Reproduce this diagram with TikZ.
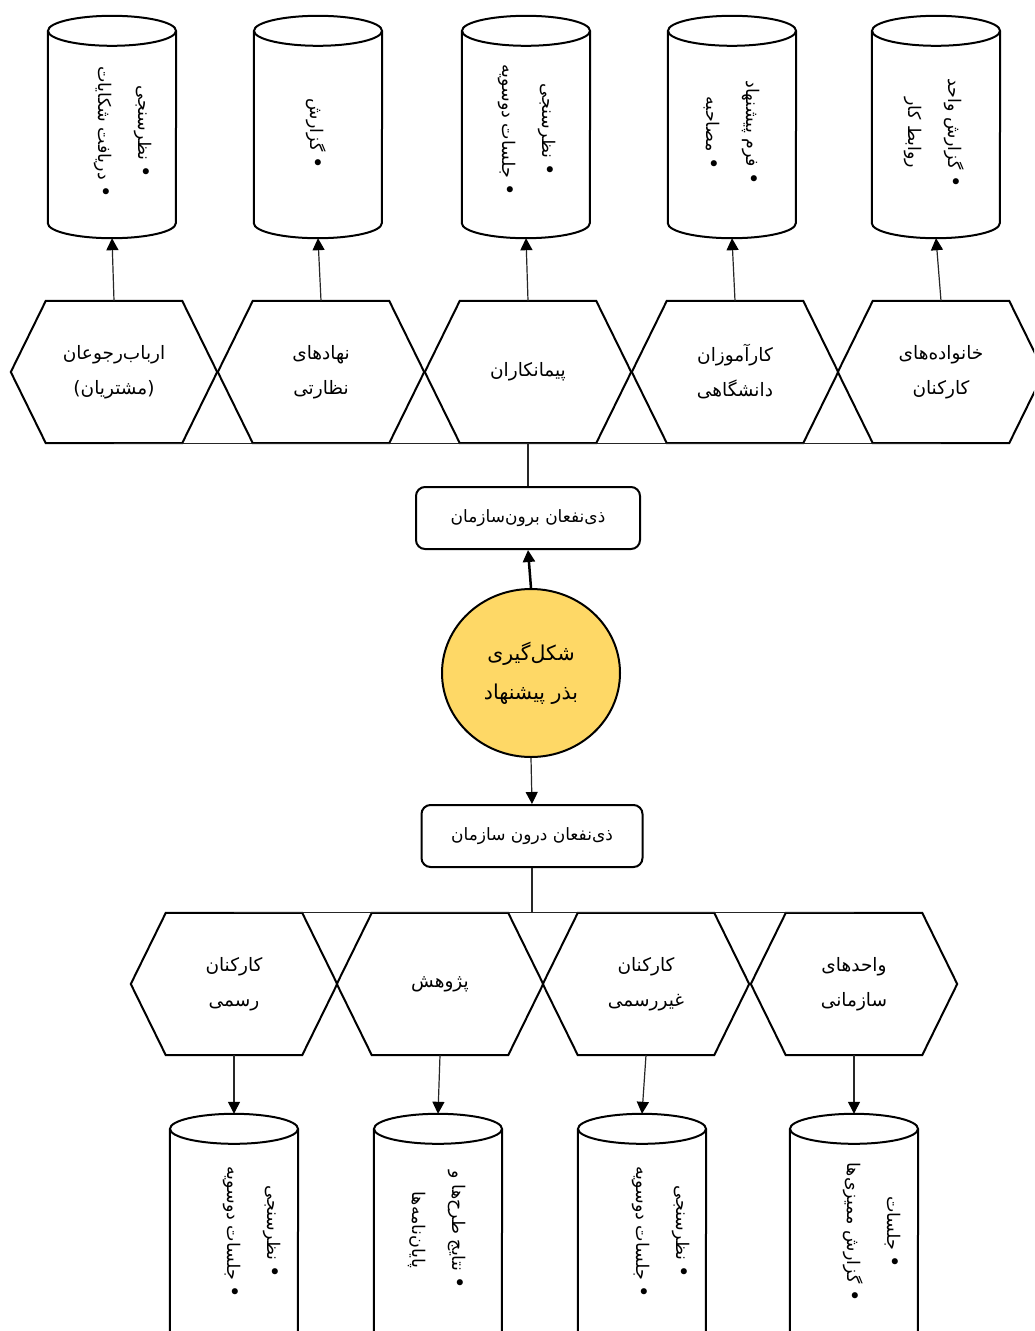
\documentclass[tikz,border=0pt]{standalone}
\usepackage{fontspec}
\usetikzlibrary{arrows.meta,calc,shapes.geometric}
\newfontfamily\fa[Script=Arabic]{DejaVu Sans}
\TeXXeTstate=1
\newcommand{\rl}[1]{\beginR #1\endR}
\newcommand{\bul}{{\fontsize{21}{40}\selectfont •}}
\definecolor{seedyellow}{RGB}{254,216,102}
\begin{document}
\begin{tikzpicture}[x=1pt,y=-1pt,
  hexa/.style={minimum width=206pt, minimum height=142pt, inner sep=0pt, align=center, font=\fa\fontsize{18.5}{35}\selectfont},
  hexline/.style={line width=2pt, line join=miter},
  cylshape/.style={minimum width=128pt, minimum height=#1, inner sep=0pt},
  cylline/.style={line width=2pt},
  cyltext/.style={rotate=-90, align=center, inner sep=0pt, font=\fa\fontsize{17.5}{40}\selectfont},
  sbox/.style={draw, line width=2pt, rounded corners=9pt, minimum height=62pt, inner sep=0pt, font=\fa\fontsize{17}{20}\selectfont},
  conn/.style={line width=1.2pt, draw=black!85},
  arr/.style={conn, -{Triangle[length=12pt,width=12pt,fill=black,color=black]}},
]
\useasboundingbox (0,0) rectangle (1034,1331);
\fill[white] (0,0) rectangle (1034,1331);
\clip (0,0) rectangle (1034,1331);

% top hexagons
\node[hexa] (h1) at (114,372) {\rl{ارباب^^^^200cرجوعان}\\\rl{(مشتریان)}};
\node[hexa] (h2) at (321,372) {\rl{نهادهای}\\\rl{نظارتی}};
\node[hexa] (h3) at (528,372) {\rl{پیمانکاران}};
\node[hexa] (h4) at (735,372) {\rl{کارآموزان}\\\rl{دانشگاهی}};
\node[hexa] (h5) at (941,372) {\rl{خانواده^^^^200cهای}\\\rl{کارکنان}};
% bottom hexagons
\node[hexa] (g1) at (234,984) {\rl{کارکنان}\\\rl{رسمی}};
\node[hexa] (g2) at (440,984) {\rl{پژوهش}};
\node[hexa] (g3) at (646,984) {\rl{کارکنان}\\\rl{غیررسمی}};
\node[hexa] (g4) at (854,984) {\rl{واحدهای}\\\rl{سازمانی}};
\foreach \n in {h1,h2,h3,h4,h5,g1,g2,g3,g4}
  \draw[hexline] (\n.west) -- ($(\n.north west)+(35,0)$) -- ($(\n.north east)+(-35,0)$)
    -- (\n.east) -- ($(\n.south east)+(-35,0)$) -- ($(\n.south west)+(35,0)$) -- cycle;

% top cylinders
\node[cylshape=222pt] (c1) at (112,127) {};
\node[cylshape=222pt] (c2) at (318,127) {};
\node[cylshape=222pt] (c3) at (526,127) {};
\node[cylshape=222pt] (c4) at (732,127) {};
\node[cylshape=222pt] (c5) at (936,127) {};
% bottom cylinders
\node[cylshape=232pt] (d1) at (234,1230) {};
\node[cylshape=232pt] (d2) at (438,1230) {};
\node[cylshape=232pt] (d3) at (642,1230) {};
\node[cylshape=232pt] (d4) at (854,1230) {};
\foreach \n in {c1,c2,c3,c4,c5,d1,d2,d3,d4}{
  \draw[cylline] ($(\n.north west)+(0,15)$) -- ($(\n.south west)+(0,-15)$)
    arc[start angle=180, end angle=360, x radius=64pt, y radius=15pt]
    -- ($(\n.north east)+(0,15)$);
  \draw[cylline] ($(\n.north)+(0,15)$) ellipse[x radius=64pt, y radius=15pt];
}
% cylinder texts
\node[cyltext] (t1) at (123,132) {\rl{\bul{} نظرسنجی}\\\rl{\bul{} دریافت شکایات}};
\node[cyltext] (t2) at (316,134) {\rl{\bul{} گزارش}};
\node[cyltext] (t3) at (527,130) {\rl{\bul{} نظرسنجی}\\\rl{\bul{} جلسات دوسویه}};
\node[cyltext] (t4) at (732,133) {\rl{\bul{} فرم پیشنهاد}\\\rl{\bul{} مصاحبه}};
\node[cyltext] (t5) at (934,133) {\rl{\bul{} گزارش واحد}\\\rl{روابط کار}};
\node[cyltext] (u1) at (252,1232) {\rl{\bul{} نظرسنجی}\\\rl{\bul{} جلسات دوسویه}};
\node[cyltext] (u2) at (437,1230) {\rl{\bul{} نتایج طرح^^^^200cها و}\\\rl{پایان^^^^200cنامه^^^^200cها}};
\node[cyltext] (u3) at (661,1232) {\rl{\bul{} نظرسنجی}\\\rl{\bul{} جلسات دوسویه}};
\node[cyltext] (u4) at (872,1232) {\rl{\bul{} جلسات}\\\rl{\bul{} گزارش ممیزی^^^^200cها}};

% central boxes and circle
\node[sbox, minimum width=224pt] (b1) at (528,518) {\rl{ذی^^^^200cنفعان برون^^^^200cسازمان}};
\node[sbox, minimum width=221pt] (b2) at (532,836) {\rl{ذی^^^^200cنفعان درون سازمان}};
\node[ellipse, draw, line width=2pt, fill=seedyellow, minimum width=178pt, minimum height=168pt,
  inner sep=0pt, align=center, font=\fa\fontsize{20.5}{39}\selectfont] (s) at (531,673)
  {\rl{شکل^^^^200cگیری}\\\rl{بذر پیشنهاد}};

% connectors
\draw[conn] (h1.south) -- (h5.south);
\draw[conn] (h3.south) -- (b1.north);
\foreach \i in {1,...,5} \draw[arr] (h\i.north) -- (c\i.south);
\draw[arr, line width=2.5pt, draw=black] (s.north) -- (b1.south);
\draw[arr] (s.south) -- (b2.north);
\draw[conn] (b2.south) -- (b2.south |- g1.north);
\draw[conn] (g1.north) -- (g4.north);
\draw[arr] (g1.south) -- (d1.north);
\draw[arr] (g2.south) -- (d2.north);
\draw[arr] (g3.south) -- (d3.north);
\draw[arr] (g4.south) -- (d4.north);
\end{tikzpicture}
\end{document}
